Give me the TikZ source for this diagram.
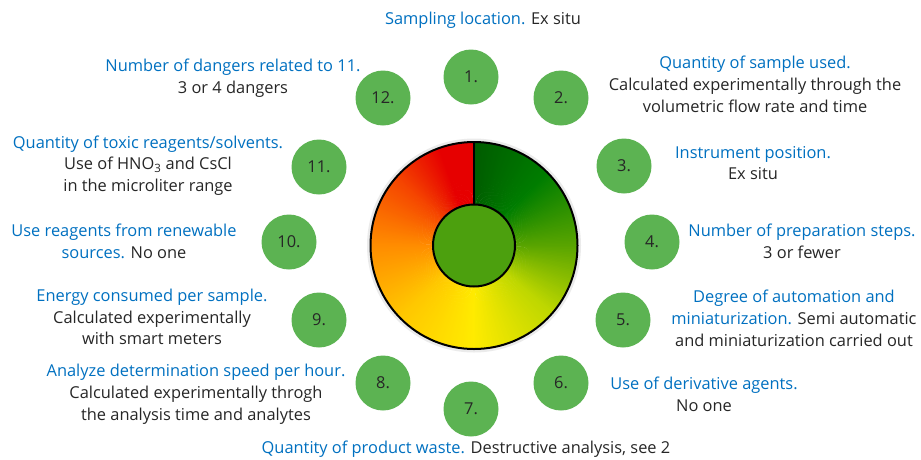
\documentclass[tikz,border=0pt]{standalone}
\usepackage{fontspec}
\setmainfont{Open Sans}
\definecolor{ballgreen}{RGB}{92,179,82}
\definecolor{headblue}{RGB}{0,112,192}
\definecolor{bodygray}{RGB}{38,38,38}
\definecolor{coregreen}{RGB}{76,160,14}
% ring colours, clockwise from the top
\definecolor{gA}{RGB}{0,92,0}
\definecolor{gB}{RGB}{0,125,0}
\definecolor{gC}{RGB}{90,165,0}
\definecolor{gD}{RGB}{190,215,0}
\definecolor{gE}{RGB}{255,235,0}
\definecolor{gF}{RGB}{255,200,0}
\definecolor{gG}{RGB}{255,140,0}
\definecolor{gH}{RGB}{245,70,0}
\definecolor{gI}{RGB}{230,0,0}
\newcommand{\head}[1]{\textcolor{headblue}{#1}}
\begin{document}
\begin{tikzpicture}[x=1pt,y=1pt]
\tikzstyle{every node}+=[inner sep=0pt, text=bodygray, font=\fontsize{16.4}{21.8}\selectfont]
\tikzstyle{ball}=[circle, fill=ballgreen, minimum size=55pt]
\tikzstyle{note}=[align=center]
\useasboundingbox (0,0) rectangle (921,-459);
% gauge ring
\coordinate (gauge) at (474,-245.5);
\draw [black!8, line width=3] (gauge) circle (105.5);
\foreach \ta/\tb/\ca/\cb in {0/45/gA/gB, 45/90/gB/gC, 90/130/gC/gD, 130/180/gD/gE, 180/225/gE/gF, 225/270/gF/gG, 270/310/gG/gH, 310/340/gH/gI, 340/360/gI/gI} {
  \pgfmathtruncatemacro\tlast{\tb-1}
  \foreach \t in {\ta,...,\tlast} {
    \pgfmathsetmacro\p{100*(\t-\ta)/(\tb-\ta)}
    \colorlet{wedge}{\cb!\p!\ca}
    \fill [wedge] (gauge) -- ++(90-\t:103.5) arc [start angle=90-\t, delta angle=-1.5, radius=103.5] -- cycle;
  }
}
\draw [black, line width=1.8] (gauge) ++(0,41) -- ++(0,62.5);
\draw [black, line width=2] (gauge) circle (103.5);
\fill [coregreen] (gauge) circle (41);
\draw [black, line width=2] (gauge) circle (41);
% numbered balls
\node [ball] (b1) at (471,-77) {1.};
\node [ball] (b2) at (561,-98) {2.};
\node [ball] (b3) at (624,-166) {3.};
\node [ball] (b4) at (652,-242) {4.};
\node [ball] (b5) at (623,-320) {5.};
\node [ball] (b6) at (561,-383) {6.};
\node [ball] (b7) at (471,-409) {7.};
\node [ball] (b8) at (383,-383) {8.};
\node [ball] (b9) at (319,-320) {9.};
\node [ball] (b10) at (289,-242) {10.};
\node [ball] (b11) at (319,-167) {11.};
\node [ball] (b12) at (383,-98) {12.};
% criteria texts
\node [note] (t1) at (483,-20) {\head{Sampling location.} Ex situ};
\node [note] (t2) at (755,-84) {\head{Quantity of sample used.}\\Calculated experimentally through the\\volumetric flow rate and time};
\node [note] (t3) at (753,-163) {\head{Instrument position.}\\Ex situ};
\node [note] (t4) at (802,-241) {\head{Number of preparation steps.}\\3 or fewer};
\node [note] (t5) at (794,-318.5) {\head{Degree of automation and}\\\head{miniaturization.} Semi automatic\\and miniaturization carried out};
\node [note] (t6) at (704,-394) {\head{Use of derivative agents.}\\No one};
\node [note] (t7) at (466,-449) {\head{Quantity of product waste.} Destructive analysis, see 2};
\node [note] (t8) at (196,-394.5) {\head{Analyze determination speed per hour.}\\Calculated experimentally throgh\\the analysis time and analytes};
\node [note] (t9) at (152,-317) {\head{Energy consumed per sample.}\\Calculated experimentally\\with smart meters};
\node [note] (t10) at (124,-241) {\head{Use reagents from renewable}\\\head{sources.} No one};
\node [note] (t11) at (148,-165.5) {\head{Quantity of toxic reagents/solvents.}\\Use of HNO\textsubscript{3} and CsCl\\in the microliter range};
\node [note] (t12) at (233,-78.5) {\head{Number of dangers related to 11.}\\3 or 4 dangers};
\end{tikzpicture}
\end{document}
